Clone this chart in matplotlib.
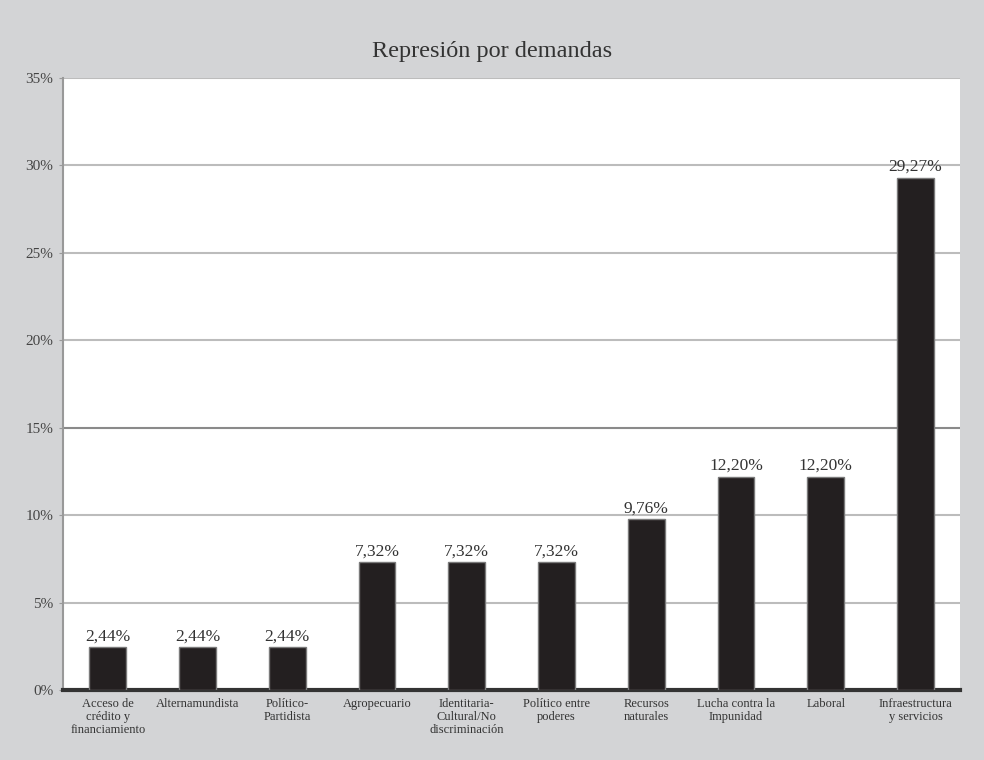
import matplotlib.pyplot as plt

# Repression cases grouped by type of demand (percent of total)
categories = [
    "Acceso de\ncrédito y\nfinanciamiento",
    "Alternamundista",
    "Político-\nPartidista",
    "Agropecuario",
    "Identitaria-\nCultural/No\ndiscriminación",
    "Político entre\npoderes",
    "Recursos\nnaturales",
    "Lucha contra la\nImpunidad",
    "Laboral",
    "Infraestructura\ny servicios",
]
values = [2.44, 2.44, 2.44, 7.32, 7.32, 7.32, 9.76, 12.20, 12.20, 29.27]
y_ticks = [0, 5, 10, 15, 20, 25, 30, 35]

plt.rcParams['font.family'] = ['Liberation Serif', 'DejaVu Serif']

fig = plt.figure(figsize=(9.84, 7.6), dpi=100, facecolor='#d3d4d6')
ax = fig.add_axes([0.064, 0.092, 0.912, 0.806])
ax.set_facecolor('white')

x = list(range(len(categories)))
bars = ax.bar(x, values, width=0.41, color='#231f20', edgecolor='#7a7a7a',
              linewidth=1, zorder=3)

# value labels above each bar
for xi, v in zip(x, values):
    label = f"{v:.2f}".replace('.', ',') + '%'
    ax.annotate(label, (xi, v), xytext=(0, 2), textcoords='offset points',
                ha='center', va='bottom', fontsize=12.5, color='#333333', zorder=4)

ax.set_xlim(-0.5, len(categories) - 0.5)
ax.set_ylim(0, 35)
ax.set_yticks(y_ticks)
ax.set_yticklabels([f"{t}%" for t in y_ticks], fontsize=11, color='#444444')
ax.set_xticks(x)
ax.set_xticklabels(categories, fontsize=9, color='#333333', linespacing=1.1)
ax.tick_params(axis='x', length=0, pad=6)
ax.tick_params(axis='y', length=3, color='#999999', pad=4)

ax.yaxis.grid(True, color='#bcbcbc', linewidth=1.5, zorder=0)
ax.get_ygridlines()[3].set_color('#8a8a8a')
ax.set_axisbelow(True)

for side in ['top', 'right']:
    ax.spines[side].set_visible(False)
ax.spines['left'].set_color('#999999')
ax.spines['left'].set_linewidth(1.5)
ax.spines['bottom'].set_color('#333333')
ax.spines['bottom'].set_linewidth(3)

fig.text(0.5, 0.932, "Represión por demandas", ha='center', va='center',
         fontsize=17.5, color='#333333')

fig.savefig('out.png', dpi=100, facecolor=fig.get_facecolor())
